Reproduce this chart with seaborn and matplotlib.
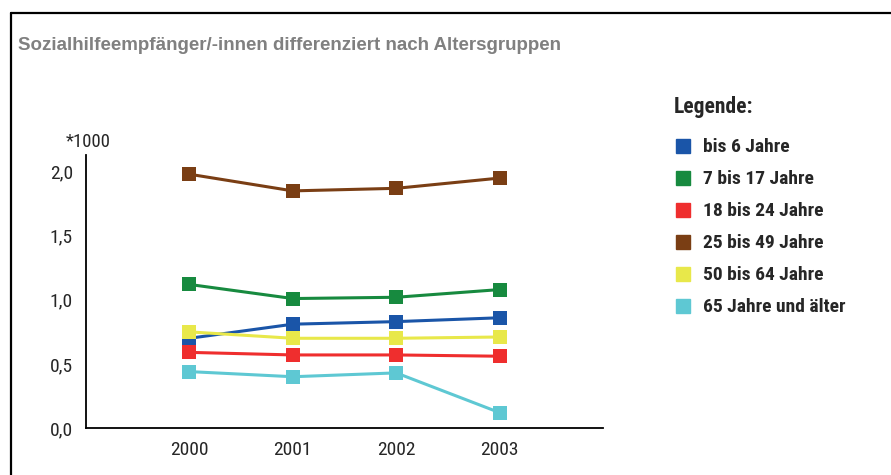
import pandas as pd
import seaborn as sns
import matplotlib.pyplot as plt
from matplotlib.lines import Line2D

# Daten (in Tausend)
jahre = [2000, 2001, 2002, 2003]
gruppen = ["bis 6 Jahre", "7 bis 17 Jahre", "18 bis 24 Jahre",
           "25 bis 49 Jahre", "50 bis 64 Jahre", "65 Jahre und älter"]
bis_6 = [0.70, 0.81, 0.83, 0.86]
bis_17 = [1.12, 1.01, 1.02, 1.08]
bis_24 = [0.59, 0.57, 0.57, 0.56]
bis_49 = [1.98, 1.85, 1.87, 1.95]
bis_64 = [0.75, 0.70, 0.70, 0.71]
ab_65 = [0.44, 0.40, 0.43, 0.12]
farben = ["#1a55a8", "#178a3f", "#ef2e2e", "#7a3e14", "#e8e84a", "#5ec8d3"]

werte = [bis_6, bis_17, bis_24, bis_49, bis_64, ab_65]
df = pd.DataFrame([(j, g, v) for g, vals in zip(gruppen, werte) for j, v in zip(jahre, vals)],
                  columns=["Jahr", "Gruppe", "Wert"])

sns.set_style("white")
plt.rcParams["font.family"] = ["Roboto Condensed", "DejaVu Sans"]

fig = plt.figure(figsize=(8.91, 4.75), dpi=100)
ax = fig.add_axes([86 / 891, 47 / 475, 517 / 891, 273 / 475])

sns.lineplot(data=df, x="Jahr", y="Wert", hue="Gruppe", hue_order=gruppen,
             palette=farben, marker="s", markersize=10, markeredgewidth=0,
             linewidth=2.2, legend=False, ax=ax)

ax.set_xlim(1999, 2004)
ax.set_ylim(0, 2.13)
ax.set_xticks(jahre)
ax.set_xticklabels([str(j) for j in jahre], fontsize=14)
ax.set_yticks([0, 0.5, 1.0, 1.5, 2.0])
ax.set_yticklabels(["0,0", "0,5", "1,0", "1,5", "2,0"], fontsize=14)
ax.set_xlabel("")
ax.set_ylabel("")
for s in ["top", "right"]:
    ax.spines[s].set_visible(False)
for s in ["left", "bottom"]:
    ax.spines[s].set_color("black")
    ax.spines[s].set_linewidth(1.3)
ax.tick_params(axis="both", direction="out", length=6.5, width=1, color="black", pad=3)

fig.text(88 / 891, 1 - 142 / 475, "*1000", fontsize=13.5, va="center", ha="center")

# Titel und Rahmen
fig.text(18 / 891, 1 - 45 / 475, "Sozialhilfeempfänger/-innen differenziert nach Altersgruppen",
         fontsize=13.5, fontweight="bold", color="#808080", va="center",
         family=["Liberation Sans", "DejaVu Sans"])
fig.add_artist(Line2D([11 / 891, 11 / 891], [0, 1 - 13 / 475], color="black", lw=1.6,
                      transform=fig.transFigure))
fig.add_artist(Line2D([11 / 891, 1], [1 - 13 / 475, 1 - 13 / 475], color="black", lw=1.6,
                      transform=fig.transFigure))

# Legende
handles = [Line2D([], [], marker="s", linestyle="", color=c, markersize=10) for c in farben]
leg = fig.legend(handles, gruppen, loc="upper left", bbox_to_anchor=(656 / 891, 1 - 78 / 475),
                 frameon=False, title="Legende:", alignment="left",
                 prop={"size": 14, "weight": "bold"}, title_fontproperties={"size": 15.5, "weight": "bold"},
                 labelspacing=0.72, handletextpad=0.5, handlelength=1.0)
leg._legend_box.sep = 15

fig.savefig("out.png", dpi=100)
